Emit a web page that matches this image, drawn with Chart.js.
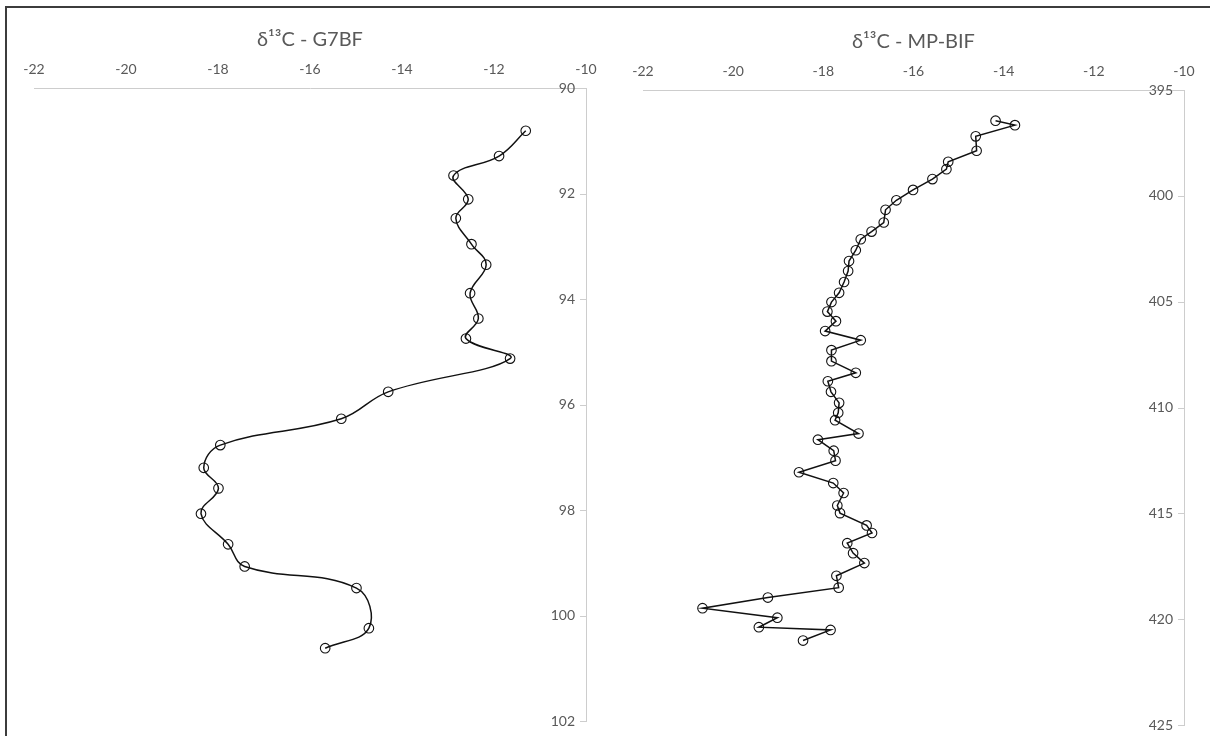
<!DOCTYPE html>
<html>
<head>
<meta charset="utf-8">
<script src="https://cdn.jsdelivr.net/npm/chart.js@4.4.1/dist/chart.umd.min.js"></script>
<style>
  body { margin: 0; background: #fff; }
  #frame { position: absolute; left: 5px; top: 6px; width: 1210px; height: 740px;
           border-left: 2px solid #3c3c3c; border-top: 2px solid #3c3c3c; }
  canvas { position: absolute; top: 0; }
  #g7bf { left: 0; }
  #mpbif { left: 605px; }
</style>
</head>
<body>
<div id="frame"></div>
<canvas id="g7bf" width="605" height="736"></canvas>
<canvas id="mpbif" width="605" height="736"></canvas>
<script>
// x ticks shared by both profiles (d13C, per mil)
var xTicks = [-22, -20, -18, -16, -14, -12, -10];

// G7BF core: depth and d13C
var g7bfDepth = [90.81, 91.29, 91.66, 92.11, 92.47, 92.96, 93.35, 93.89, 94.37, 94.75, 95.13,
                 95.76, 96.27, 96.77, 97.20, 97.59, 98.07, 98.65, 99.07, 99.48, 100.24, 100.62];
var g7bfD13C = [-11.31, -11.89, -12.88, -12.56, -12.83, -12.49, -12.17, -12.52, -12.34, -12.61, -11.65,
                -14.30, -15.32, -17.95, -18.31, -17.99, -18.37, -17.78, -17.42, -14.99, -14.72, -15.67];
var g7bfDepthTicks = [90, 92, 94, 96, 98, 100, 102];

// MP-BIF core: depth and d13C
var mpbifDepth = [396.45, 396.66, 397.19, 397.87, 398.39, 398.74, 399.21, 399.72, 400.21, 400.66,
                  401.26, 401.69, 402.05, 402.57, 403.08, 403.55, 404.07, 404.58, 405.02, 405.47,
                  405.92, 406.39, 406.82, 407.29, 407.81, 408.36, 408.76, 409.26, 409.78, 410.25,
                  410.60, 411.23, 411.52, 412.04, 412.51, 413.06, 413.57, 414.04, 414.63, 414.99,
                  415.57, 415.93, 416.41, 416.88, 417.35, 417.95, 418.51, 418.98, 419.48, 419.93,
                  420.38, 420.51, 421.01];
var mpbifD13C = [-14.18, -13.75, -14.62, -14.60, -15.23, -15.27, -15.58, -16.01, -16.38, -16.62,
                 -16.66, -16.93, -17.17, -17.28, -17.43, -17.45, -17.54, -17.65, -17.82, -17.91,
                 -17.72, -17.96, -17.17, -17.82, -17.82, -17.28, -17.90, -17.83, -17.65, -17.67,
                 -17.74, -17.22, -18.12, -17.77, -17.73, -18.54, -17.78, -17.55, -17.69, -17.63,
                 -17.04, -16.92, -17.47, -17.34, -17.09, -17.71, -17.66, -19.23, -20.68, -19.02,
                 -19.43, -17.84, -18.45];
var mpbifDepthTicks = [395, 400, 405, 410, 415, 420, 425];

var textGrey = '#595959';
var axisGrey = '#cdcdcd';
var fontFamily = 'Lato, "Open Sans", sans-serif';

// small tick marks on the inner side of the depth axis
var depthTickMarks = {
    id: 'depthTickMarks',
    afterDraw(chart) {
        var y = chart.scales.y, ctx = chart.ctx, x0 = chart.chartArea.right;
        ctx.save();
        ctx.strokeStyle = axisGrey;
        ctx.lineWidth = 1;
        y.ticks.forEach(function (t, i) {
            var py = Math.round(y.getPixelForTick(i)) + 0.5;
            ctx.beginPath();
            ctx.moveTo(x0 - 6, py);
            ctx.lineTo(x0, py);
            ctx.stroke();
        });
        ctx.restore();
    }
};

function toPoints(xs, ys) {
    return xs.map(function (v, i) { return { x: v, y: ys[i] }; });
}

function profileChart(canvasId, title, depth, d13c, depthTicks, tension, pad) {
    var ctx = document.getElementById(canvasId).getContext('2d');
    return new Chart(ctx, {
        type: 'scatter',
        plugins: [depthTickMarks],
        data: {
            datasets: [{
                data: toPoints(d13c, depth),
                showLine: true,
                tension: tension,
                borderColor: '#111',
                borderWidth: 1.5,
                pointRadius: 4.8,
                pointBorderWidth: 1.1,
                pointBorderColor: '#111',
                pointBackgroundColor: 'rgba(0,0,0,0)'
            }]
        },
        options: {
            responsive: false,
            animation: false,
            layout: { padding: pad },
            plugins: {
                legend: { display: false },
                tooltip: { enabled: false },
                title: {
                    display: true,
                    text: title,
                    color: textGrey,
                    font: { family: fontFamily, size: 20, weight: 'normal' },
                    padding: { top: 8, bottom: 6 }
                }
            },
            scales: {
                x: {
                    type: 'linear',
                    position: 'top',
                    min: xTicks[0],
                    max: xTicks[xTicks.length - 1],
                    afterBuildTicks: function (s) { s.ticks = xTicks.map(function (v) { return { value: v }; }); },
                    ticks: { color: textGrey, font: { family: fontFamily, size: 14 }, padding: 2 },
                    grid: { display: false },
                    border: { color: axisGrey, width: 1 },
                    afterFit: function (s) { s.height = 30; }
                },
                y: {
                    type: 'linear',
                    position: 'right',
                    reverse: true,
                    min: depthTicks[0],
                    max: depthTicks[depthTicks.length - 1],
                    afterBuildTicks: function (s) { s.ticks = depthTicks.map(function (v) { return { value: v }; }); },
                    ticks: { mirror: true, color: textGrey, font: { family: fontFamily, size: 14 }, padding: -11 },
                    grid: { display: false },
                    border: { color: axisGrey, width: 1 },
                    afterFit: function (s) { s.width = 0; }
                }
            }
        }
    });
}

profileChart('g7bf', 'δ¹³C - G7BF', g7bfDepth, g7bfD13C, g7bfDepthTicks, 0.4,
    { left: 34, right: 19, top: 20, bottom: 15 });
profileChart('mpbif', 'δ¹³C - MP-BIF', mpbifDepth, mpbifD13C, mpbifDepthTicks, 0,
    { left: 38, right: 26, top: 22, bottom: 11 });
</script>
</body>
</html>
